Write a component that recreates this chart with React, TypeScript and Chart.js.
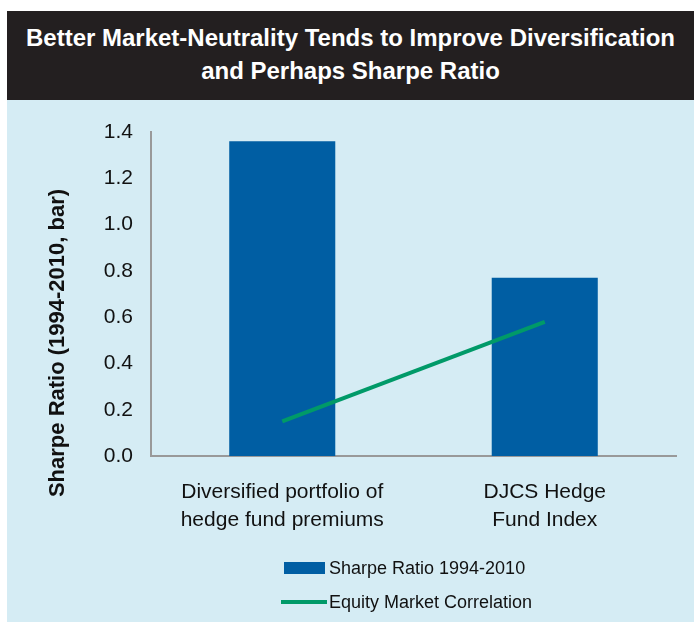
import React, { useEffect, useRef } from "react";
import { Chart, registerables } from "chart.js";

Chart.register(...registerables);

const titleLines = [
  "Better Market-Neutrality Tends to Improve Diversification",
  "and Perhaps Sharpe Ratio",
];
const categories = [
  ["Diversified portfolio of", "hedge fund premiums"],
  ["DJCS Hedge", "Fund Index"],
];
const seriesLabels = ["Sharpe Ratio 1994-2010", "Equity Market Correlation"];
const sharpeRatio = [1.36, 0.77];
const equityCorrelation = [0.15, 0.58];
const yAxisTitle = "Sharpe Ratio (1994-2010, bar)";
const yMin = 0;
const yMax = 1.4;
const yStep = 0.2;

const FONT = '"Liberation Sans", Arial, Helvetica, sans-serif';
const BG = "#D5ECF4";
const BLUE = "#005EA3";
const GREEN = "#009A68";
const AXIS = "#999999";
const TEXT = "#111111";

const overlayPlugin = {
  id: "overlay",
  afterDraw(chart: any) {
    const ctx = chart.ctx as CanvasRenderingContext2D;
    // y-axis title
    ctx.save();
    ctx.font = `bold 22px ${FONT}`;
    ctx.fillStyle = TEXT;
    ctx.translate(51, 243);
    ctx.rotate(-Math.PI / 2);
    ctx.textAlign = "center";
    ctx.textBaseline = "middle";
    ctx.fillText(yAxisTitle, 0, 0);
    ctx.restore();

    // legend
    const ds = chart.data.datasets;
    ctx.save();
    ctx.font = `18px ${FONT}`;
    ctx.fillStyle = TEXT;
    ctx.textAlign = "left";
    ctx.textBaseline = "middle";
    ctx.fillStyle = ds[0].backgroundColor;
    ctx.fillRect(277, 462, 41, 12);
    ctx.fillStyle = TEXT;
    ctx.fillText(ds[0].label, 322, 469);
    ctx.strokeStyle = ds[1].borderColor;
    ctx.lineWidth = 4;
    ctx.beginPath();
    ctx.moveTo(274, 502);
    ctx.lineTo(320, 502);
    ctx.stroke();
    ctx.fillText(ds[1].label, 322, 503);
    ctx.restore();
  },
};

export default function App() {
  const canvasRef = useRef<HTMLCanvasElement | null>(null);

  useEffect(() => {
    document.body.style.margin = "0";
    const canvas = canvasRef.current;
    if (!canvas) return;
    const chart = new Chart(canvas, {
      type: "bar",
      data: {
        labels: categories,
        datasets: [
          {
            type: "bar",
            label: seriesLabels[0],
            data: sharpeRatio,
            backgroundColor: BLUE,
            borderWidth: 0,
            categoryPercentage: 1,
            barPercentage: 0.404,
            order: 2,
          },
          {
            type: "line",
            label: seriesLabels[1],
            data: equityCorrelation,
            borderColor: GREEN,
            backgroundColor: GREEN,
            borderWidth: 4,
            pointRadius: 0,
            tension: 0,
            order: 1,
          } as any,
        ],
      },
      options: {
        responsive: false,
        animation: false,
        devicePixelRatio: 1,
        layout: { padding: { left: 0, right: 18, top: 32, bottom: 0 } },
        plugins: {
          legend: { display: false },
          tooltip: { enabled: false },
          title: { display: false },
        },
        scales: {
          x: {
            offset: true,
            grid: { display: false, drawTicks: false },
            border: { display: true, color: AXIS, width: 2 },
            ticks: {
              color: TEXT,
              font: { family: FONT, size: 21, lineHeight: 1.35 },
              padding: 22,
              maxRotation: 0,
              autoSkip: false,
            },
            afterFit: (scale: any) => {
              scale.height = 166;
            },
          },
          y: {
            min: yMin,
            max: yMax,
            grid: { display: false, drawTicks: false },
            border: { display: true, color: AXIS, width: 2 },
            ticks: {
              stepSize: yStep,
              color: TEXT,
              font: { family: FONT, size: 21 },
              padding: 18,
              callback: (v: any) => Number(v).toFixed(1),
            },
            afterFit: (scale: any) => {
              scale.width = 144;
            },
          },
        },
      },
      plugins: [overlayPlugin],
    });
    return () => chart.destroy();
  }, []);

  return (
    <div
      style={{
        position: "relative",
        width: 694,
        height: 622,
        background: "#ffffff",
        overflow: "hidden",
      }}
    >
      <div
        style={{
          position: "absolute",
          left: 7,
          top: 11,
          width: 687,
          height: 89,
          background: "#231F20",
          color: "#ffffff",
          fontFamily: FONT,
          fontWeight: "bold",
          fontSize: 24,
          lineHeight: "33px",
          textAlign: "center",
          paddingTop: 10,
          boxSizing: "border-box",
          letterSpacing: "0px",
        }}
      >
        {titleLines.map((l, i) => (
          <div key={i}>{l}</div>
        ))}
      </div>
      <div
        style={{
          position: "absolute",
          left: 7,
          top: 100,
          width: 687,
          height: 522,
          background: BG,
        }}
      >
        <canvas
          ref={canvasRef}
          width={687}
          height={522}
          style={{ display: "block", width: 687, height: 522 }}
        />
      </div>
    </div>
  );
}
